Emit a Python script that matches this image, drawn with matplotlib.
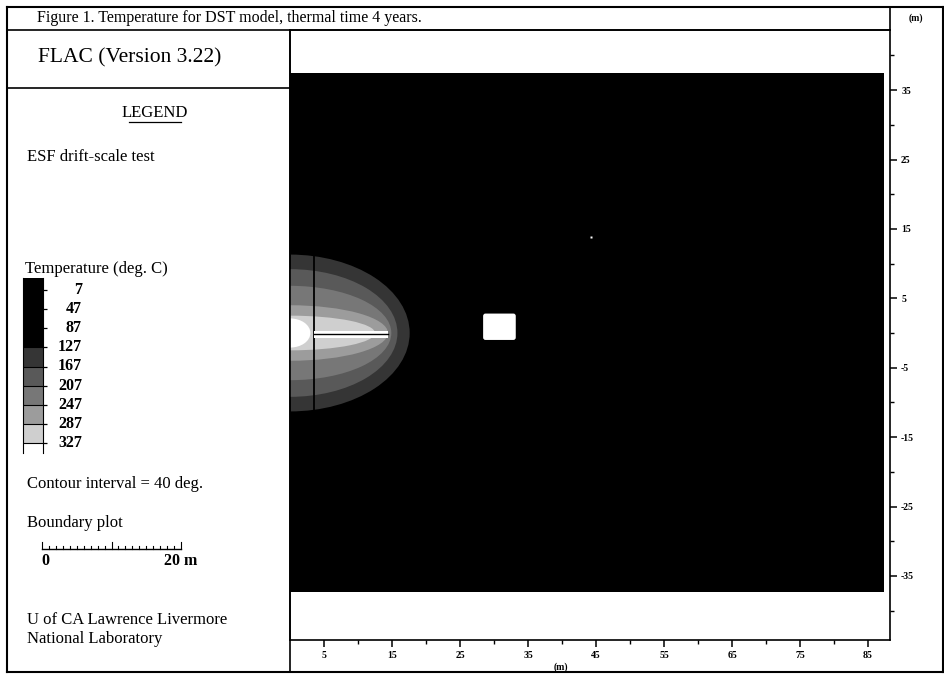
import matplotlib
matplotlib.use("Agg")
import matplotlib.pyplot as plt
from matplotlib.patches import Rectangle, Ellipse, FancyBboxPatch
from matplotlib.lines import Line2D

# ---------------- data ----------------
legend_levels = [7, 47, 87, 127, 167, 207, 247, 287, 327]          # deg C
contour_levels = [127, 167, 207, 247, 287, 327]                     # deg C
contour_reach_x = [17.6, 15.8, 14.9, 14.4, 12.5, 3.0]               # m, along heater
contour_reach_y = [11.3, 9.2, 6.8, 4.0, 2.5, 2.1]                   # m, across heater
model_x = [0.0, 87.3]
model_y = [-37.3, 37.5]
heater_x = [3.6, 14.4]
heater_y = [-0.7, 0.3]
bulkhead_x = 3.6
obs_drift_x = [28.4, 33.2]
obs_drift_y = [-1.0, 2.8]
obs_point = [44.3, 13.8]
x_ticks = [5, 15, 25, 35, 45, 55, 65, 75, 85]
x_minor = [10, 20, 30, 40, 50, 60, 70, 80]
y_ticks = [35, 25, 15, 5, -5, -15, -25, -35]
y_minor = [40, 30, 20, 10, 0, -10, -20, -30, -40]
scale_len = 20

# ---------------- styles ----------------
band_colors = ['#000000', '#000000', '#000000', '#000000',
               '#353535', '#595959', '#777777', '#9c9c9c', '#cfcfcf', '#ffffff']
SERIF = ['Liberation Serif', 'DejaVu Serif']
plt.rcParams['font.family'] = SERIF
TXT = 12

W, H = 945, 674
def fx(x): return x / W
def fy(y): return 1 - y / H

fig = plt.figure(figsize=(W / 100, H / 100), dpi=100)
fig.patch.set_facecolor('white')

def hline(y, x0, x1, lw=1.2):
    fig.add_artist(Line2D([fx(x0), fx(x1)], [fy(y), fy(y)], color='black', lw=lw))
def vline(x, y0, y1, lw=1.2):
    fig.add_artist(Line2D([fx(x), fx(x)], [fy(y0), fy(y1)], color='black', lw=lw))

# ---------------- main plot ----------------
ax = fig.add_axes([fx(290), fy(640), 600 / W, 610 / H])
ax.set_xlim(0, 600 / 6.8)
ax.set_ylim((333 - 640) / 6.94, (333 - 30) / 6.94)
ax.set_facecolor('white')

ax.add_patch(Rectangle((model_x[0], model_y[0]), model_x[1] - model_x[0],
                       model_y[1] - model_y[0], facecolor='black', edgecolor='none', zorder=1))

# temperature contours (filled, outer to inner)
for i, (lev, rx, ry) in enumerate(zip(contour_levels, contour_reach_x, contour_reach_y)):
    band = legend_levels.index(lev) + 1
    ax.add_patch(Ellipse((model_x[0], 0), 2 * rx, 2 * ry, facecolor=band_colors[band],
                         edgecolor='none', zorder=2 + i))

# bulkhead line and heater
ax.plot([bulkhead_x, bulkhead_x], [-contour_reach_y[0], contour_reach_y[0]], color='black', lw=1.3, zorder=10)
ax.add_patch(Rectangle((heater_x[0], heater_y[0]), heater_x[1] - heater_x[0],
                       heater_y[1] - heater_y[0], facecolor='white', edgecolor='none', zorder=10))
ax.plot(heater_x, [sum(heater_y) / 2] * 2, color='black', lw=1.0, zorder=11)

# observation drift and point
ax.add_patch(FancyBboxPatch((obs_drift_x[0], obs_drift_y[0]), obs_drift_x[1] - obs_drift_x[0],
                            obs_drift_y[1] - obs_drift_y[0], boxstyle='round,pad=0,rounding_size=0.35',
                            facecolor='white', edgecolor='none', zorder=10))
ax.plot([obs_point[0]], [obs_point[1]], marker='s', ms=2, color='white', mec='none', zorder=10)

for s in ax.spines.values():
    s.set_linewidth(1.2)
ax.set_xticks(x_ticks)
ax.set_xticks(x_minor, minor=True)
ax.set_xticklabels([str(v) for v in x_ticks])
ax.yaxis.tick_right()
ax.set_yticks(y_ticks)
ax.set_yticks(y_minor, minor=True)
ax.set_yticklabels([str(v) for v in y_ticks])
ax.tick_params(axis='both', which='major', direction='out', length=5, width=1.1, labelsize=7, pad=3)
ax.tick_params(axis='both', which='minor', direction='out', length=3, width=1.0)
for lbl in ax.get_xticklabels() + ax.get_yticklabels():
    lbl.set_fontweight('bold')
fig.text(fx(561), fy(667), '(m)', fontsize=7, fontweight='bold', ha='center', va='center')
fig.text(fx(916), fy(18), '(m)', fontsize=7, fontweight='bold', ha='center', va='center')

# ---------------- frame ----------------
hline(7, 7, 943, 1.5)
hline(672, 7, 943, 1.5)
vline(7, 7, 672, 1.5)
vline(943, 7, 672, 1.5)
hline(30, 7, 890)
vline(890, 7, 30)
vline(290, 30, 672)
hline(88, 7, 290)

# ---------------- text panel ----------------
fig.text(fx(37), fy(18), 'Figure 1. Temperature for DST model, thermal time 4 years.',
         fontsize=11.5, ha='left', va='center')
fig.text(fx(38), fy(58), 'FLAC (Version 3.22)', fontsize=15.5, ha='left', va='center')
fig.text(fx(155), fy(113), 'LEGEND', fontsize=TXT, ha='center', va='center')
hline(122, 129, 181, 0.9)
fig.text(fx(27), fy(157), 'ESF drift-scale test', fontsize=TXT, ha='left', va='center')
fig.text(fx(25), fy(269), 'Temperature (deg. C)', fontsize=TXT, ha='left', va='center')

# colour key
cax = fig.add_axes([fx(23), fy(453), 20 / W, 175 / H])
cax.set_xlim(0, 1)
cax.set_ylim(8.52, -0.63)
edges = [-0.63] + list(range(len(legend_levels))) + [8.52]
for k in range(len(edges) - 1):
    cax.axhspan(edges[k], edges[k + 1], color=band_colors[k], lw=0)
for k in range(len(legend_levels)):
    cax.axhline(k, color='black', lw=0.8)
cax.set_xticks([])
cax.yaxis.tick_right()
cax.set_yticks(range(len(legend_levels)))
cax.set_yticklabels([])
cax.tick_params(axis='y', direction='out', length=3, width=0.9)
cax.spines['top'].set_visible(False)
cax.spines['bottom'].set_visible(False)
for k, lev in enumerate(legend_levels):
    fig.text(fx(82), fy(290 + k * 19.1), str(lev), fontsize=11.5, fontweight='bold',
             ha='right', va='center')

fig.text(fx(27), fy(484), 'Contour interval = 40 deg.', fontsize=TXT, ha='left', va='center')
fig.text(fx(27), fy(523), 'Boundary plot', fontsize=TXT, ha='left', va='center')

# scale bar
sax = fig.add_axes([fx(42), fy(549), 139 / W, 10 / H])
sax.set_xlim(0, scale_len)
sax.set_ylim(0, 1)
sax.axis('off')
sax.plot([0, scale_len], [0, 0], color='black', lw=1.0, clip_on=False)
for m in range(scale_len + 1):
    h = 0.75 if m % 10 == 0 else 0.35
    sax.plot([m, m], [0, h], color='black', lw=0.8, clip_on=False)
fig.text(fx(45), fy(561), '0', fontsize=11.5, fontweight='bold', ha='center', va='center')
fig.text(fx(181), fy(561), '20 m', fontsize=11.5, fontweight='bold', ha='center', va='center')

fig.text(fx(27), fy(620), 'U of CA Lawrence Livermore', fontsize=TXT, ha='left', va='center')
fig.text(fx(27), fy(639), 'National Laboratory', fontsize=TXT, ha='left', va='center')

fig.savefig('out.png', dpi=100)
